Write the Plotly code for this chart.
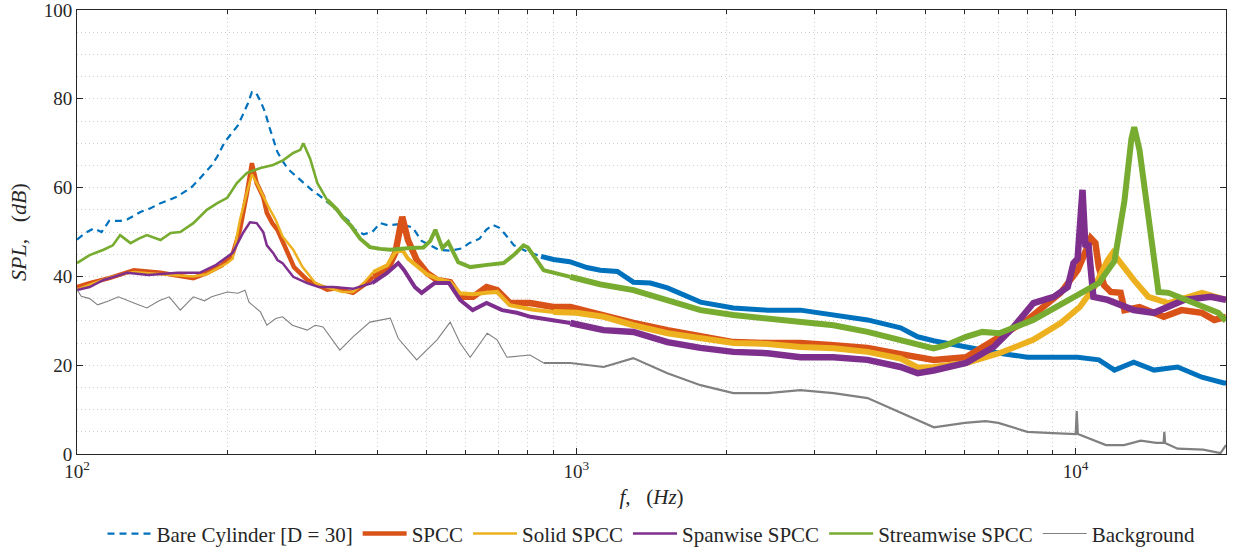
import plotly.graph_objects as go

# ---------------- data ----------------
freq_bare = [100, 104, 108, 112, 116, 122, 126, 134, 140, 147, 153, 159, 165, 170, 176, 181, 186, 191, 196,
             200, 205, 210, 215, 220, 224, 228, 233, 238, 243, 248, 252, 258, 264, 270, 278, 287, 295, 305,
             315, 325, 335, 350, 360, 375, 390, 405, 420, 445, 470, 490, 510, 530, 560, 590, 610, 640, 660,
             680, 700, 720, 750, 800, 850, 900, 970, 1050, 1117, 1208, 1301, 1407, 1522, 1638, 1773, 2063,
             2414, 2811, 3273, 3830, 4460, 4826, 5193, 5600, 6000, 6500, 7030, 8000, 9000, 10090, 11130,
             11960, 13070, 14350, 16000, 17900, 19800, 20000]
spl_bare = [48.3, 49.8, 50.8, 50.0, 52.5, 52.5, 52.8, 54.5, 55.3, 56.5, 57.2, 58.0, 59.2, 60.2, 62.0, 63.5,
            65.0, 67.0, 69.5, 71.0, 72.5, 74.0, 76.5, 79.0, 81.5, 81.5, 79.5, 77.0, 73.5, 70.5, 68.0, 66.0,
            64.3, 63.3, 62.0, 60.5, 59.5, 58.3, 57.0, 55.8, 54.3, 52.5, 50.5, 49.5, 50.0, 52.0, 51.5, 51.8,
            51.0, 48.0, 47.0, 46.0, 45.8, 46.3, 47.5, 48.5, 50.5, 51.6, 51.0, 49.5, 47.0, 45.5, 44.5, 43.8,
            43.3, 42.0, 41.4, 41.1, 38.7, 38.5, 37.4, 35.8, 34.2, 32.9, 32.4, 32.4, 31.3, 30.2, 28.4, 26.4,
            25.5, 24.8, 24.2, 23.5, 22.7, 21.8, 21.8, 21.8, 21.2, 18.9, 20.7, 18.9, 19.6, 17.3, 16.0, 16.0]

freq_spcc = [100, 106, 116, 130, 147, 171, 182, 195, 205, 212, 219, 224, 229, 236, 240, 246, 252, 259, 267,
             272, 289, 317, 330, 357, 375, 392, 418, 434, 448, 460, 479, 502, 526, 559, 585, 621, 661, 694,
             736, 808, 899, 973, 1117, 1301, 1522, 1773, 2063, 2414, 2811, 3273, 3830, 4460, 5193, 6030,
             6850, 8000, 9330, 10090, 10500, 10720, 10950, 11130, 11400, 11760, 12300, 12520, 13420, 15010,
             16290, 17900, 18950, 20000]
spl_spcc = [37.6, 38.5, 39.6, 41.4, 40.8, 39.6, 40.8, 42.5, 45.0, 50.5, 58.8, 65.5, 61.0, 57.9, 54.3, 52.0,
            50.5, 47.5, 43.7, 42.1, 39.2, 37.0, 37.3, 36.3, 38.0, 39.9, 41.4, 45.3, 53.4, 48.2, 43.7, 40.8,
            39.2, 38.7, 35.4, 35.4, 37.6, 36.9, 34.0, 34.0, 33.1, 33.1, 31.3, 29.5, 27.9, 26.4, 25.2, 25.0,
            25.0, 24.5, 23.9, 22.5, 21.2, 21.8, 25.7, 30.2, 36.3, 41.4, 46.0, 48.6, 47.5, 42.0, 38.0, 36.5,
            36.3, 32.4, 33.1, 30.9, 32.4, 31.8, 30.2, 30.9]

freq_solid = [100, 108, 118, 130, 147, 171, 182, 200, 205, 212, 219, 224, 229, 236, 242, 250, 258, 271, 283,
              300, 317, 340, 357, 375, 392, 418, 434, 448, 460, 479, 502, 526, 559, 585, 621, 661, 694, 736,
              820, 900, 1000, 1134, 1301, 1522, 1773, 2063, 2414, 2811, 3273, 3830, 4460, 4826, 5193, 6030,
              7030, 8220, 9330, 10190, 10900, 11590, 11870, 12300, 13070, 13980, 15340, 17900, 20000]
spl_solid = [37.0, 38.5, 40.0, 41.0, 40.5, 40.0, 40.5, 43.0, 44.0, 52.7, 59.0, 63.0, 61.0, 58.0, 55.6, 52.7,
             49.0, 46.0, 42.1, 38.5, 37.5, 36.5, 36.5, 38.5, 41.0, 42.5, 45.5, 46.0, 44.0, 42.5, 40.5, 39.5,
             38.7, 36.2, 36.0, 36.3, 36.5, 33.5, 32.5, 32.0, 31.8, 30.9, 29.0, 27.2, 26.0, 25.0, 24.8, 24.1,
             23.8, 23.0, 21.5, 19.5, 19.6, 20.5, 22.7, 25.7, 29.5, 33.1, 37.6, 43.7, 45.3, 43.0, 39.2, 35.4,
             34.0, 36.3, 34.7]

freq_span = [100, 106, 113, 126, 139, 159, 176, 190, 205, 215, 222, 229, 236, 240, 247, 252, 258, 267, 271,
             289, 305, 326, 357, 390, 418, 440, 452, 475, 490, 520, 556, 585, 620, 661, 710, 760, 810, 973,
             1134, 1301, 1522, 1773, 2063, 2414, 2811, 3273, 3830, 4460, 4826, 5193, 6030, 6850, 7510, 8230,
             9040, 9640, 9900, 10090, 10320, 10460, 10600, 10850, 11590, 13070, 14350, 16470, 18650, 20000]
spl_span = [36.9, 37.6, 39.2, 40.8, 40.3, 40.8, 40.8, 42.6, 45.3, 49.8, 52.2, 52.0, 50.0, 47.0, 45.3, 43.7,
            43.0, 40.8, 39.9, 38.5, 37.6, 37.6, 37.2, 38.5, 40.8, 43.0, 41.4, 37.6, 36.3, 38.5, 38.5, 34.7,
            32.4, 34.0, 32.4, 31.8, 30.9, 29.5, 27.9, 27.5, 25.2, 23.9, 23.0, 22.7, 21.8, 21.8, 21.2, 19.6,
            18.2, 18.8, 20.5, 24.1, 28.6, 34.0, 35.4, 37.6, 43.0, 44.0, 59.5, 46.6, 47.5, 35.4, 34.7, 32.4,
            31.8, 34.7, 35.4, 34.7]

freq_stream = [100, 106, 113, 118, 122, 128, 133, 138, 147, 154, 161, 171, 182, 191, 200, 209, 219, 233, 247,
               259, 271, 280, 284, 289, 293, 303, 317, 332, 340, 353, 369, 386, 405, 424, 465, 494, 510, 522,
               539, 554, 580, 613, 663, 715, 749, 784, 800, 821, 860, 973, 1117, 1301, 1522, 1773, 2063, 2414,
               2811, 3273, 3830, 4460, 5193, 5500, 6030, 6500, 7030, 8220, 9290, 10190, 11130, 11960, 12520,
               12930, 13100, 13420, 13980, 14650, 15340, 17300, 19300, 20000]
spl_stream = [43.0, 44.8, 46.0, 47.0, 49.3, 47.5, 48.5, 49.3, 48.2, 49.8, 50.0, 52.0, 55.0, 56.5, 57.7, 61.0,
              63.3, 64.4, 65.1, 66.2, 67.8, 68.5, 70.0, 68.0, 66.5, 61.0, 57.2, 55.0, 53.4, 51.5, 48.5, 46.6,
              46.2, 46.0, 46.4, 46.5, 48.0, 50.5, 46.4, 47.7, 43.2, 42.1, 42.6, 43.0, 44.8, 47.0, 46.5, 44.8,
              41.4, 39.9, 38.2, 36.9, 34.7, 32.4, 31.3, 30.6, 29.7, 29.0, 27.5, 25.7, 23.8, 24.5, 26.4, 27.5,
              27.2, 30.2, 33.5, 35.8, 38.5, 43.5, 57.0, 71.0, 73.6, 68.5, 53.4, 36.5, 36.3, 34.0, 31.8, 30.0]

freq_bg = [100, 102, 106, 110, 116, 121, 130, 138, 146, 153, 161, 171, 180, 186, 200, 210, 217, 221, 233, 240,
           250, 258, 270, 289, 300, 311, 336, 357, 386, 424, 440, 479, 526, 559, 585, 613, 663, 694, 726, 808,
           860, 973, 1134, 1300, 1522, 1773, 2063, 2414, 2811, 3273, 3830, 4500, 5200, 6000, 6600, 7000, 8000,
           9000, 10000, 10050, 10100, 11500, 12500, 13500, 14500, 15000, 15050, 15100, 16000, 18000, 19500,
           20000]
spl_bg = [37.0, 35.5, 35.0, 33.6, 34.5, 35.4, 34.0, 32.9, 34.5, 35.4, 32.4, 35.4, 34.5, 35.4, 36.5, 36.2, 36.9,
          34.2, 32.0, 29.0, 30.5, 30.9, 29.0, 27.9, 29.0, 28.6, 23.4, 26.4, 29.7, 30.6, 26.0, 21.2, 25.7, 29.7,
          25.0, 21.8, 27.2, 25.7, 21.8, 22.3, 20.5, 20.5, 19.6, 21.6, 18.2, 15.5, 13.7, 13.7, 14.4, 13.7, 12.6,
          9.2, 6.0, 7.0, 7.4, 7.0, 5.0, 4.7, 4.5, 9.7, 4.5, 2.0, 2.0, 3.0, 2.5, 2.5, 5.0, 2.5, 1.2, 1.0, 0.2, 2.0]

x_tick_vals = [100, 1000, 10000]
x_tick_text = ["10<sup>2</sup>", "10<sup>3</sup>", "10<sup>4</sup>"]
x_minor_vals = [200, 300, 400, 500, 600, 700, 800, 900, 2000, 3000, 4000, 5000, 6000, 7000, 8000, 9000, 20000]
y_tick_vals = [0, 20, 40, 60, 80, 100]

# ---------------- styling ----------------
# each series: name, x, y, colour, list of (upper frequency limit, line width, dash) segments
# (the measured spectra get visibly thicker with frequency because of their noise band)
series = [
    ("Bare Cylinder [D = 30]", freq_bare, spl_bare, "#0072BD",
     [(870, 2.2, "7px,5px"), (1e9, 5.0, "solid")]),
    ("SPCC", freq_spcc, spl_spcc, "#D95319",
     [(400, 4.5, "solid"), (1e9, 6.5, "solid")]),
    ("Solid SPCC", freq_solid, spl_solid, "#EDB120",
     [(400, 2.5, "solid"), (1000, 4.0, "solid"), (1e9, 6.0, "solid")]),
    ("Spanwise SPCC", freq_span, spl_span, "#7E2F8E",
     [(400, 2.5, "solid"), (1000, 4.0, "solid"), (1e9, 6.5, "solid")]),
    ("Streamwise SPCC", freq_stream, spl_stream, "#77AC30",
     [(330, 2.6, "solid"), (1000, 4.0, "solid"), (1e9, 6.0, "solid")]),
    ("Background", freq_bg, spl_bg, "#808080",
     [(900, 1.1, "solid"), (1e9, 2.2, "solid")]),
]

fig = go.Figure()
for name, fx, fy, col, segs in series:
    lo = 0.0
    for k, (hi, w, dash) in enumerate(segs):
        xs, ys = [], []
        for i, (a, b) in enumerate(zip(fx, fy)):
            if lo <= a <= hi:
                if not xs and i > 0:
                    xs.append(fx[i - 1]); ys.append(fy[i - 1])
                xs.append(a); ys.append(b)
        lo = hi
        fig.add_trace(go.Scatter(x=xs, y=ys, mode="lines", name=name, legendgroup=name,
                                 showlegend=(k == 0),
                                 line=dict(color=col, width=w, dash=dash)))

grid_col = "#d0d0d0"
axis_col = "#262626"
font_fam = "Liberation Serif"

fig.update_layout(
    width=1233, height=550,
    margin=dict(l=77, r=7, t=10, b=96, autoexpand=False),
    paper_bgcolor="white", plot_bgcolor="white",
    font=dict(family=font_fam, size=19, color=axis_col),
    showlegend=True,
    legend=dict(orientation="h", x=0.5, xanchor="center", y=-0.18, yanchor="middle",
                font=dict(family=font_fam, size=21, color=axis_col),
                bgcolor="rgba(0,0,0,0)", itemwidth=44, tracegroupgap=0),
)

fig.update_xaxes(
    type="log", range=[2, 4.30103], automargin=False,
    tickmode="array", tickvals=x_tick_vals, ticktext=x_tick_text,
    ticks="inside", ticklen=6, tickcolor=axis_col, tickwidth=1,
    showline=True, linecolor=axis_col, linewidth=1, mirror="ticks",
    showgrid=True, gridcolor=grid_col, griddash="1px,3px", gridwidth=1,
    minor=dict(tickmode="array", tickvals=x_minor_vals, ticks="inside", ticklen=4,
               tickcolor=axis_col, showgrid=True, gridcolor=grid_col, griddash="1px,3px"),
    zeroline=False, ticklabeloverflow="allow",
    title=dict(text="<i>f</i>,   (<i>Hz</i>)", standoff=8, font=dict(size=21)),
    tickfont=dict(size=19),
)
fig.update_yaxes(
    range=[0, 100], automargin=False,
    tickmode="array", tickvals=y_tick_vals,
    ticks="inside", ticklen=6, tickcolor=axis_col, tickwidth=1,
    showline=True, linecolor=axis_col, linewidth=1, mirror="ticks",
    showgrid=True, gridcolor=grid_col, griddash="1px,3px", gridwidth=1,
    minor=dict(dtick=5, showgrid=True, gridcolor=grid_col, griddash="1px,3px"),
    zeroline=False, ticklabeloverflow="allow",
    title=dict(text="<i>SPL</i>,   (<i>dB</i>)", standoff=11, font=dict(size=22)),
    tickfont=dict(size=19),
)

fig.write_html("out.html", config={"displayModeBar": False},
               post_script="document.body.style.margin='0';")
